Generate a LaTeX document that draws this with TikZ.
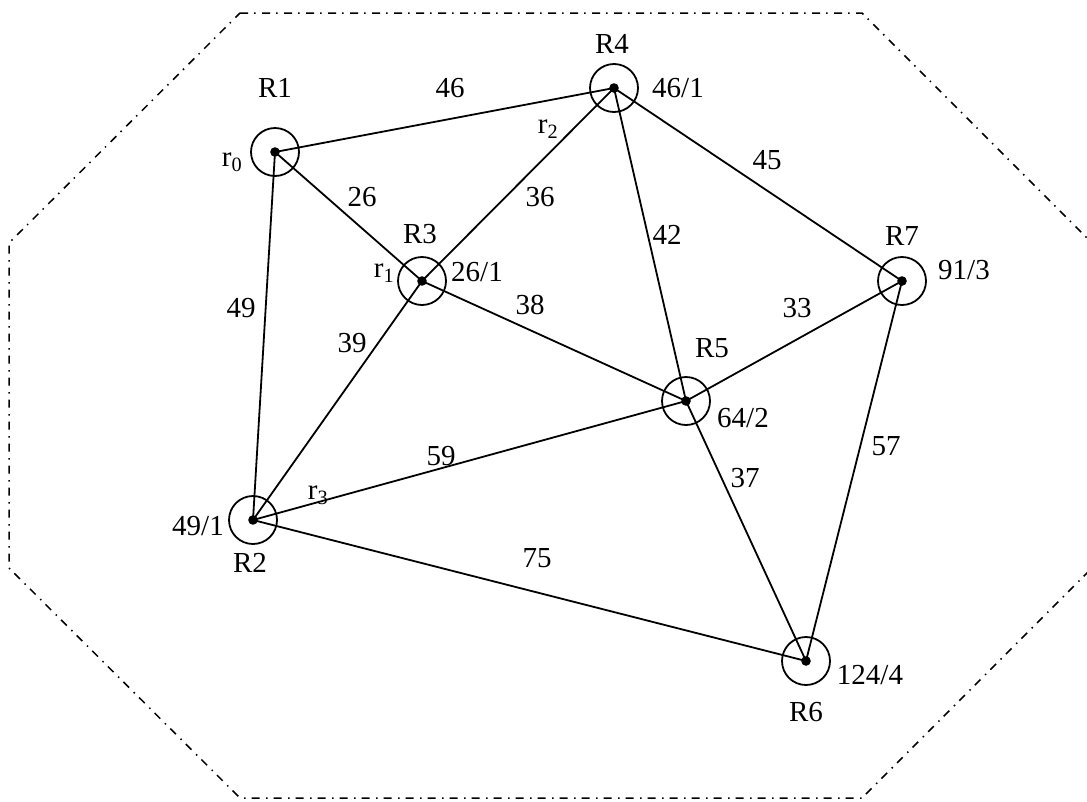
\documentclass[tikz,border=0pt]{standalone}
\usepackage{fontspec}
\setmainfont{Liberation Serif}
\begin{document}
\begin{tikzpicture}[x=1pt,y=-1pt,
  font=\fontsize{29}{34}\selectfont,
  router/.style={circle,draw,line width=1.8pt,minimum size=48pt,inner sep=0pt},
  link/.style={line width=1.8pt},
  txt/.style={inner sep=0pt},
  border/.style={line width=1.5pt,dash pattern=on 8pt off 6pt on 1.5pt off 6.5pt}]
\useasboundingbox (0,0) rectangle (1087,801);

% boundary of the area
\draw[border] (240,13) -- (862,13) -- (1092,243) -- (1092,568) -- (862,798)
  -- (240,798) -- (9,568) -- (9,243) -- cycle;

% routers
\node[router] (R1) at (275,152) {};
\node[router] (R2) at (253,520) {};
\node[router] (R3) at (422,281) {};
\node[router] (R4) at (614,88) {};
\node[router] (R5) at (686,401) {};
\node[router] (R6) at (806,661) {};
\node[router] (R7) at (902,281) {};

% links
\draw[link] (R1.center) -- (R4.center);
\draw[link] (R1.center) -- (R3.center);
\draw[link] (R1.center) -- (R2.center);
\draw[link] (R4.center) -- (R3.center);
\draw[link] (R4.center) -- (R5.center);
\draw[link] (R4.center) -- (R7.center);
\draw[link] (R3.center) -- (R5.center);
\draw[link] (R3.center) -- (R2.center);
\draw[link] (R5.center) -- (R7.center);
\draw[link] (R5.center) -- (R2.center);
\draw[link] (R5.center) -- (R6.center);
\draw[link] (R7.center) -- (R6.center);
\draw[link] (R2.center) -- (R6.center);

\foreach \r in {R1,R2,R3,R4,R5,R6,R7}
  \fill (\r.center) circle (4.8);

% router names
\node[txt] (n1) at (275,88) {R1};
\node[txt] (n2) at (250,563) {R2};
\node[txt] (n3) at (420,234) {R3};
\node[txt] (n4) at (612,44) {R4};
\node[txt] (n5) at (712,348) {R5};
\node[txt] (n6) at (806,712) {R6};
\node[txt] (n7) at (902,236) {R7};

% cost / hop labels
\node[txt] (d2) at (198,526) {49/1};
\node[txt] (d3) at (477,272) {26/1};
\node[txt] (d4) at (678,88) {46/1};
\node[txt] (d5) at (743,418) {64/2};
\node[txt] (d6) at (870,675) {124/4};
\node[txt] (d7) at (964,270) {91/3};

% route markers
\node[txt] (r0) at (232,162) {r\textsubscript{0}};
\node[txt] (r1) at (384,273) {r\textsubscript{1}};
\node[txt] (r2) at (548,129) {r\textsubscript{2}};
\node[txt] (r3) at (318,495) {r\textsubscript{3}};

% link weights
\node[txt] (w14) at (450,88) {46};
\node[txt] (w13) at (362,197) {26};
\node[txt] (w34) at (540,197) {36};
\node[txt] (w45) at (667,235) {42};
\node[txt] (w47) at (767,160) {45};
\node[txt] (w12) at (241,308) {49};
\node[txt] (w23) at (352,343) {39};
\node[txt] (w35) at (530,305) {38};
\node[txt] (w57) at (797,308) {33};
\node[txt] (w25) at (441,456) {59};
\node[txt] (w56) at (745,478) {37};
\node[txt] (w67) at (886,446) {57};
\node[txt] (w26) at (537,558) {75};
\end{tikzpicture}
\end{document}
